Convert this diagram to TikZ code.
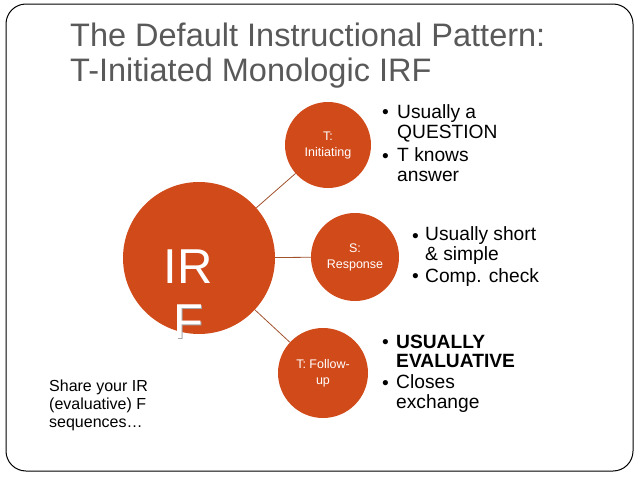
\documentclass[tikz,border=0pt]{standalone}
\usepackage{fontspec}
\setmainfont{Liberation Sans}
\definecolor{irfred}{RGB}{209,74,26}
\definecolor{linkbrown}{RGB}{160,82,45}
\definecolor{titlegray}{RGB}{89,89,89}

\begin{document}
\begin{tikzpicture}[x=1pt, y=-1pt, font=\fontsize{19.2}{20}\selectfont]
	\useasboundingbox (0,0) rectangle (638,479);
	\draw[rounded corners=20pt, line width=1pt] (6,4) rectangle (633,471);
      \tikzstyle{bubble} = [circle, fill=irfred, inner sep=0pt, text=white, align=center, font=\fontsize{12.5}{16}\selectfont]
      \tikzstyle{item} = [anchor=base west, inner sep=0pt, align=left]
      \tikzstyle{link} = [draw=linkbrown, line width=0.8pt]
      \node (title) [item, text=titlegray, font=\fontsize{32.5}{35}\selectfont] at (70,81) {The Default Instructional Pattern:\\T-Initiated Monologic IRF};
      \node (IRF) at (199,258) [bubble, minimum size=152pt] {};
      \node (IRtext) at (188,283) [anchor=base, inner sep=0pt, text=white, font=\fontsize{49}{55}\selectfont] {IR};
      \node (Fshadow) at (189.5,339.5) [anchor=base, inner sep=0pt, text=black!35, font=\fontsize{49}{55}\selectfont] {F};
      \node (Ftext) at (188,338) [anchor=base, inner sep=0pt, text=white, font=\fontsize{49}{55}\selectfont] {F};
      \node (Init) at (328,145) [bubble, minimum size=86pt] {T:\\Initiating};
      \node (Resp) at (355,257) [bubble, minimum size=88pt] {S:\\Response};
      \node (Follow) at (323,373) [bubble, minimum size=90pt] {T: Follow-\\up};
      \draw[link] (IRF) -- (Init);
      \draw[link] (IRF) -- (Resp);
      \draw[link] (IRF) -- (Follow);
      \node (InitDotA) [item] at (382,118) {•};
      \node (InitA) [item] at (397,138) {Usually a\\QUESTION};
      \node (InitDotB) [item] at (382,162) {•};
      \node (InitB) [item] at (397,181) {T knows\\answer};
      \node (RespDotA) [item] at (412,242) {•};
      \node (RespA) [item] at (425,260) {Usually short\\\& simple};
      \node (RespDotB) [item] at (412,282) {•};
      \node (RespB) [item] at (425,282) {Comp. check};
      \node (FollowDotA) [item] at (382,348) {•};
      \node (FollowA) [item, font=\fontsize{19.2}{19}\bfseries] at (396,367) {USUALLY\\EVALUATIVE};
      \node (FollowDotB) [item] at (382,389) {•};
      \node (FollowB) [item] at (396,408) {Closes\\exchange};
      \node (share) [item, font=\fontsize{16}{18}\selectfont] at (49,427) {Share your IR\\(evaluative) F\\sequences…};
    \end{tikzpicture}
\end{document}
